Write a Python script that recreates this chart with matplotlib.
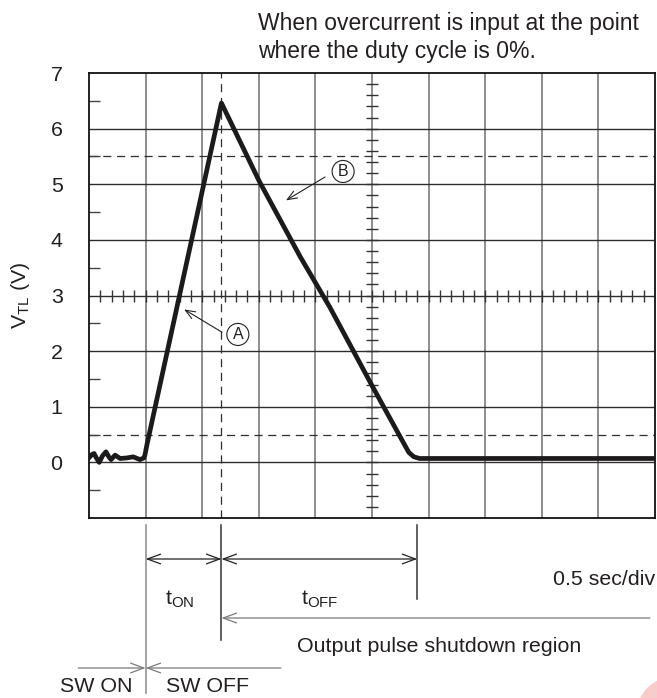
import matplotlib
matplotlib.use('Agg')
import matplotlib.pyplot as plt
import matplotlib.transforms as mtransforms
from matplotlib.patches import Circle
import numpy as np

plt.rcParams['font.family'] = ['Liberation Sans', 'DejaVu Sans']
plt.rcParams['mathtext.default'] = 'regular'

# V_TL trace: time in divisions (0.5 sec/div), voltage in V
idle_t = [0.00, 0.05, 0.09, 0.13, 0.18, 0.24, 0.30, 0.35, 0.39, 0.46, 0.55, 0.67, 0.78, 0.90, 0.97]
idle_v = [0.08, 0.14, 0.16, 0.08, 0.00, 0.12, 0.19, 0.10, 0.05, 0.13, 0.07, 0.08, 0.10, 0.05, 0.08]
rise_t = [0.99, 1.02, 2.34]
rise_v = [0.14, 0.30, 6.46]
fall_t = [3.01, 3.73, 4.26, 5.00, 5.53, 5.65, 5.74, 5.84, 10.0]
fall_v = [5.05, 3.70, 2.78, 1.38, 0.40, 0.18, 0.10, 0.07, 0.07]

trace_t = idle_t + rise_t + fall_t
trace_v = idle_v + rise_v + fall_v

t_sw_off = 1.0     # switch turned off, start of t_ON
t_peak = 2.34      # end of t_ON
t_off_end = 5.8    # end of t_OFF
ref_levels = [5.5, 0.5]

ytick_vals = [0, 1, 2, 3, 4, 5, 6, 7]

W, H = 657, 698
fig = plt.figure(figsize=(W / 100, H / 100), dpi=100)
ax = fig.add_axes([89 / W, 180 / H, 566 / W, 445 / H])

txt = '#231f20'
fs = 15.4

# graticule
for x in range(1, 10):
    ax.axvline(x, color='#6e6e6e', lw=1.1, zorder=1)
for y in range(0, 7):
    ax.axhline(y, color='#2e2e2e', lw=1.0, zorder=1)
for y in ref_levels:
    ax.axhline(y, color='#2e2e2e', lw=0.9, dashes=(6.5, 4.5), zorder=1)
ax.axvline(t_peak, color='#2e2e2e', lw=0.9, dashes=(6.5, 4.5), zorder=1)

# fine ticks on the centre cross
fx = np.arange(0.2, 10, 0.2)
ax.plot(fx, np.full(len(fx), 3.0), ls='none', marker='|', ms=8.5, mew=1.0, color='#333333', zorder=2)
fy = np.arange(-0.8, 7, 0.2)
ax.plot(np.full(len(fy), 5.0), fy, ls='none', marker='_', ms=8.5, mew=1.0, color='#333333', zorder=2)

ax.plot(trace_t, trace_v, color='#1c1a1b', lw=3.4, solid_joinstyle='round', solid_capstyle='round', zorder=3)

ax.set_xlim(0, 10)
ax.set_ylim(-1, 7)
ax.set_xticks([])
ax.set_yticks(ytick_vals)
ax.set_yticklabels([str(v) for v in ytick_vals])
ax.set_yticks(np.arange(-0.5, 7, 1.0), minor=True)
ax.tick_params(axis='y', which='major', length=0, pad=19, labelsize=fs, labelcolor=txt)
ax.tick_params(axis='y', which='minor', direction='in', length=8, width=1.0, color='#444444')
for s in ax.spines.values():
    s.set_linewidth(1.3)
    s.set_color('#111111')

ax.set_ylabel('V$_{TL}$ (V)', fontsize=fs, color=txt)
ax.yaxis.set_label_coords(-0.100, 0.5)

# circled markers A and B
circ = dict(boxstyle='circle,pad=0.22', fc='white', ec='#222222', lw=0.8)
ax.text(2.63, 2.30, 'A', ha='center', va='center', fontsize=11.5, color=txt, bbox=circ, zorder=4)
ax.text(4.49, 5.23, 'B', ha='center', va='center', fontsize=11.5, color=txt, bbox=circ, zorder=4)
thin = dict(arrowstyle='->,head_length=0.7,head_width=0.28', lw=0.8, color='#222222', shrinkA=0, shrinkB=0)
ax.annotate('', xy=(1.68, 2.75), xytext=(2.35, 2.34), arrowprops=thin, zorder=4)
ax.annotate('', xy=(3.48, 4.71), xytext=(4.17, 5.13), arrowprops=thin, zorder=4)

# timing annotations below the screen (x in divisions, y in figure pixels)
tr = mtransforms.blended_transform_factory(ax.transData, fig.transFigure)


def py(p):
    return 1 - p / H


def vline(x, p0, p1, color):
    ax.plot([x, x], [py(p0), py(p1)], transform=tr, clip_on=False, color=color, lw=1.1)


def arrow(x0, x1, p, style, color):
    ax.annotate('', xy=(x1, py(p)), xycoords=tr, xytext=(x0, py(p)), textcoords=tr,
                arrowprops=dict(arrowstyle=style, lw=0.9, color=color, shrinkA=0, shrinkB=0),
                annotation_clip=False)


vline(t_sw_off, 525, 693, '#8a8a8a')
vline(t_peak, 525, 640, '#333333')
vline(t_off_end, 525, 599, '#333333')

both = '<->,head_length=0.95,head_width=0.35'
one = '->,head_length=0.95,head_width=0.35'
arrow(t_sw_off, t_peak, 559, both, '#222222')
arrow(t_peak, t_off_end, 559, both, '#222222')
arrow(9.91, t_peak, 618, one, '#7a7a7a')
arrow(-0.19, t_sw_off, 668, one, '#7a7a7a')
arrow(3.39, t_sw_off, 668, one, '#7a7a7a')

ax.text((t_sw_off + t_peak) / 2 - 0.06, py(605), 't$_{ON}$', transform=tr, ha='center', va='baseline', fontsize=fs, color=txt)
ax.text((t_peak + t_off_end) / 2, py(605), 't$_{OFF}$', transform=tr, ha='center', va='baseline', fontsize=fs, color=txt)
fig.text(655 / W, py(585), '0.5 sec/div', ha='right', va='baseline', fontsize=fs, color=txt)
fig.text(297 / W, py(652), 'Output pulse shutdown region', ha='left', va='baseline', fontsize=fs, color=txt)
fig.text(133 / W, py(692), 'SW ON', ha='right', va='baseline', fontsize=fs, color=txt)
fig.text(166 / W, py(692), 'SW OFF', ha='left', va='baseline', fontsize=fs, color=txt)

fig.text(258 / W, py(30), 'When overcurrent is input at the point', ha='left', va='baseline', fontsize=16.5, color=txt)
fig.text(258 / W, py(58), 'where the duty cycle is 0%.', ha='left', va='baseline', fontsize=16.5, color=txt)

fig.patches.append(Circle((675, -17), 38, transform=None, color='#f9cccc', zorder=0))

fig.savefig('out.png', dpi=100)
